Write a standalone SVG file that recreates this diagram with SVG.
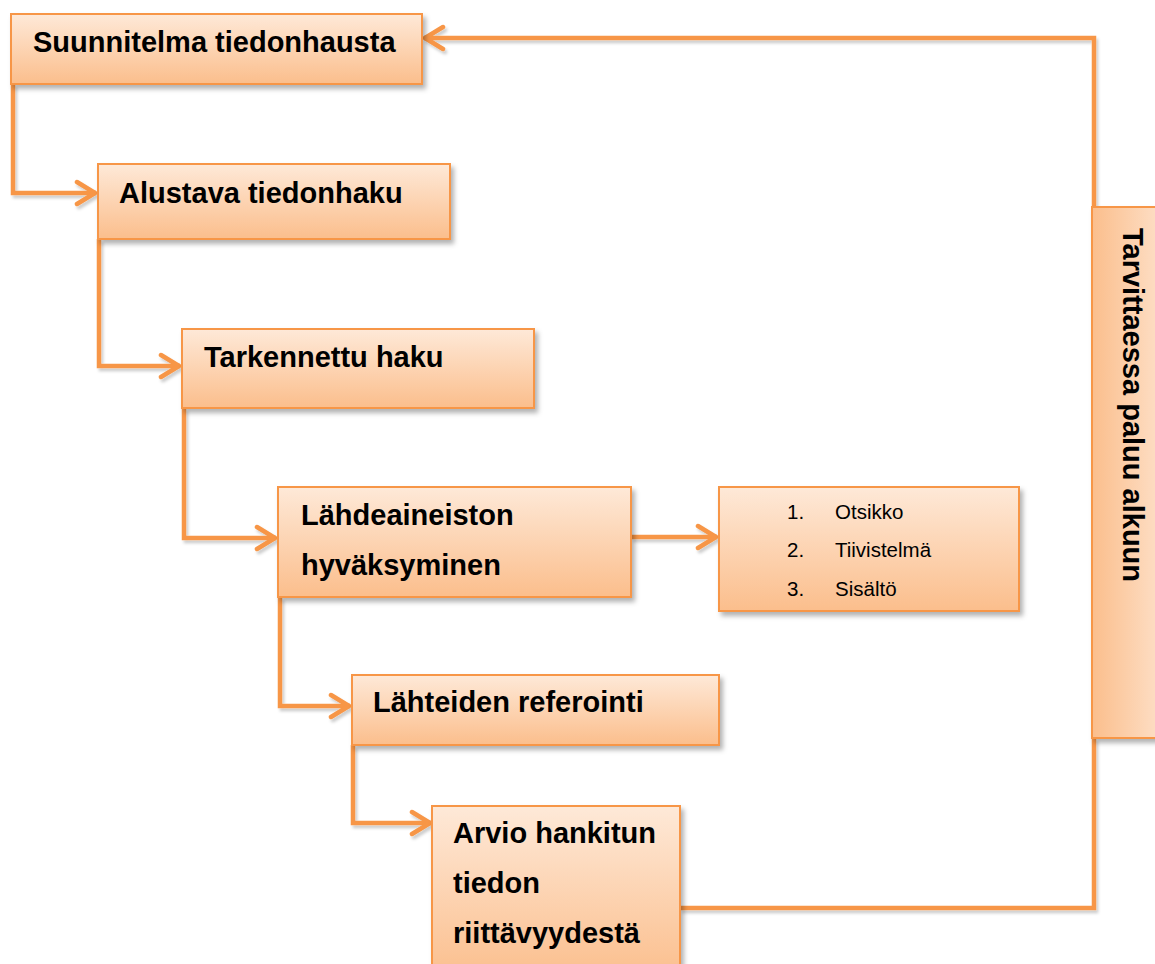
<svg xmlns="http://www.w3.org/2000/svg" width="1155" height="964" viewBox="0 0 1155 964">
  <style>
    .box { fill: url(#gV); stroke: #F79646; stroke-width: 2; filter: url(#sh); }
    .vbox { fill: url(#gH); stroke: #F79646; stroke-width: 2; filter: url(#sh); }
    .t { font-family: "Liberation Sans", Arial, sans-serif; font-weight: bold; font-size: 29px; fill: #000; }
    .l { font-family: "Liberation Sans", Arial, sans-serif; font-size: 20.5px; fill: #000; }
    .c { fill: none; stroke: #F79646; stroke-width: 4.5; stroke-linejoin: miter; }
  </style>
  <defs>
    <linearGradient id="gV" x1="0" y1="0" x2="0" y2="1">
      <stop offset="0" stop-color="#FEE9D8"/>
      <stop offset="1" stop-color="#FBBE8C"/>
    </linearGradient>
    <linearGradient id="gH" x1="0" y1="0" x2="1" y2="0">
      <stop offset="0" stop-color="#FBBE8C"/>
      <stop offset="1" stop-color="#FEE9D8"/>
    </linearGradient>
    <filter id="sh" x="-10%" y="-10%" width="130%" height="140%">
      <feDropShadow dx="3" dy="4" stdDeviation="2.5" flood-color="#000" flood-opacity="0.3"/>
    </filter>
    <filter id="lsh" x="-10%" y="-10%" width="130%" height="130%">
      <feDropShadow dx="2" dy="3" stdDeviation="1.5" flood-color="#000" flood-opacity="0.2"/>
    </filter>
    <marker id="arr" viewBox="-24 -14 28 28" markerWidth="28" markerHeight="28" refX="0" refY="0" orient="auto" markerUnits="userSpaceOnUse">
      <path d="M-19,-11 L-1,0 L-19,11" fill="none" stroke="#F79646" stroke-width="4.5" stroke-linecap="round" stroke-linejoin="round"/>
    </marker>
  </defs>

  <g id="connectors" filter="url(#lsh)">
    <path class="c" d="M13,84 V193 H96" marker-end="url(#arr)"/>
    <path class="c" d="M99,239 V366 H180" marker-end="url(#arr)"/>
    <path class="c" d="M184,408 V538 H276" marker-end="url(#arr)"/>
    <path class="c" d="M280,597 V706 H350" marker-end="url(#arr)"/>
    <path class="c" d="M353,745 V823 H431" marker-end="url(#arr)"/>
    <path class="c" d="M631,537 H717" marker-end="url(#arr)"/>
    <path class="c" d="M680,908 H1094 V738"/>
    <path class="c" d="M1094,207 V38 H424" marker-end="url(#arr)"/>
  </g>

  <g id="n1">
    <rect class="box" x="11" y="14" width="411" height="70"/>
    <text class="t" x="33" y="52">Suunnitelma tiedonhausta</text>
  </g>
  <g id="n2">
    <rect class="box" x="98" y="164" width="352" height="75"/>
    <text class="t" x="119" y="203">Alustava tiedonhaku</text>
  </g>
  <g id="n3">
    <rect class="box" x="182" y="329" width="352" height="79"/>
    <text class="t" x="204" y="367">Tarkennettu haku</text>
  </g>
  <g id="n4">
    <rect class="box" x="278" y="487" width="353" height="110"/>
    <text class="t" x="301" y="525">Lähdeaineiston</text>
    <text class="t" x="301" y="575">hyväksyminen</text>
  </g>
  <g id="n5">
    <rect class="box" x="719" y="487" width="300" height="124"/>
    <text class="l" x="787" y="519">1.</text>
    <text class="l" x="835" y="519">Otsikko</text>
    <text class="l" x="787" y="557">2.</text>
    <text class="l" x="835" y="557">Tiivistelmä</text>
    <text class="l" x="787" y="596">3.</text>
    <text class="l" x="835" y="596">Sisältö</text>
  </g>
  <g id="n6">
    <rect class="box" x="352" y="675" width="367" height="70"/>
    <text class="t" x="373" y="712">Lähteiden referointi</text>
  </g>
  <g id="n7">
    <rect class="box" x="432" y="806" width="248" height="175"/>
    <text class="t" x="453" y="843">Arvio hankitun</text>
    <text class="t" x="453" y="893">tiedon</text>
    <text class="t" x="453" y="943">riittävyydestä</text>
  </g>
  <g id="n8">
    <rect class="vbox" x="1092" y="207" width="90" height="531"/>
    <text class="t" transform="translate(1123,228) rotate(90)">Tarvittaessa paluu alkuun</text>
  </g>
</svg>
